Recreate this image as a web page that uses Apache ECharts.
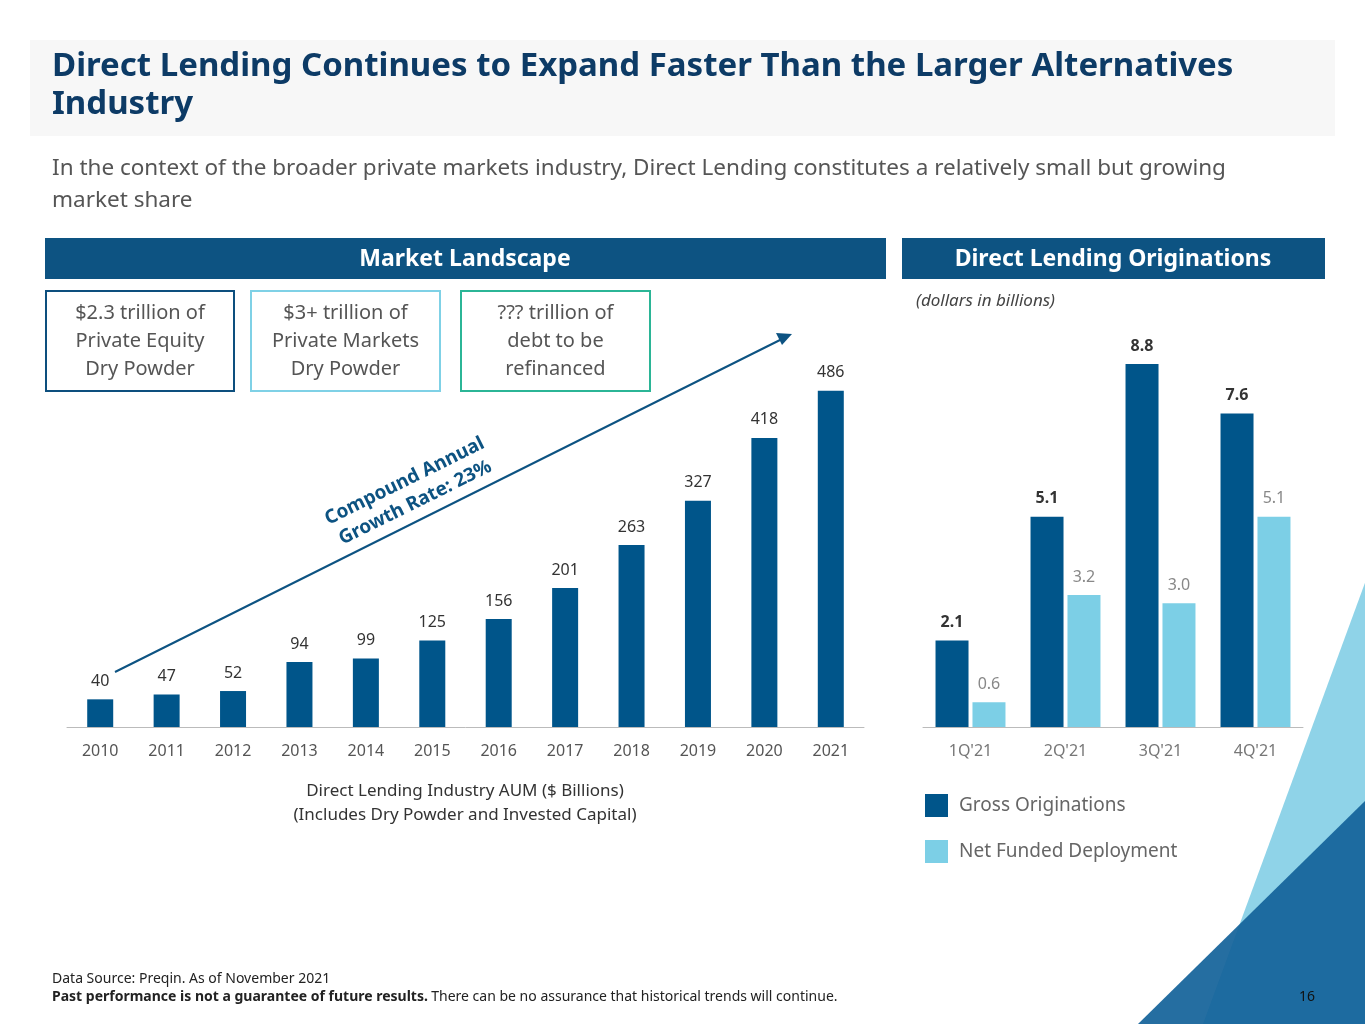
<!DOCTYPE html>
<html><head><meta charset="utf-8">
<script src="https://cdn.jsdelivr.net/npm/echarts@6/dist/echarts.min.js"></script>
<style>html,body{margin:0;padding:0;background:#fff}#c{width:1365px;height:1024px}</style>
</head><body><div id="c"></div>
<script>
const years = ['2010','2011','2012','2013','2014','2015','2016','2017','2018','2019','2020','2021'];
const aum = [40,47,52,94,99,125,156,201,263,327,418,486];
const quarters = ["1Q'21","2Q'21","3Q'21","4Q'21"];
const gross = [2.1,5.1,8.8,7.6];
const net = [0.6,3.2,3.0,5.1];

const F = 'Noto Sans, Open Sans, sans-serif';
const DARK = '#00558a', LIGHT = '#7ccfe6', NAVY='#0d5382';
const chart = echarts.init(document.getElementById('c'));
function box(x,y,w,h,color,text){
  return [{type:'rect',shape:{x:x,y:y,width:w,height:h},style:{fill:'#fff',stroke:color,lineWidth:2}},
  {type:'text',x:x+w/2,y:y+h/2,style:{text:text,fill:'#555',font:'20px '+F,align:'center',verticalAlign:'middle',lineHeight:28}}];
}
const fmt1 = p => p.value.toFixed(1);
chart.setOption({
  animation:false,
  textStyle:{fontFamily:F},
  grid:[{left:67,width:797,top:312,height:415},{left:923,width:380,top:314.5,height:412.5}],
  xAxis:[
    {gridIndex:0,type:'category',data:years,axisTick:{show:false},axisLine:{lineStyle:{color:'#bbb'}},axisLabel:{color:'#555',fontSize:16,margin:16}},
    {gridIndex:1,type:'category',data:quarters,axisTick:{show:false},axisLine:{lineStyle:{color:'#bbb'}},axisLabel:{color:'#777',fontSize:16,margin:16}}
  ],
  yAxis:[
    {gridIndex:0,min:0,max:600,show:false},
    {gridIndex:1,min:0,max:10,show:false}
  ],
  legend:{orient:'vertical',left:920,top:789,itemWidth:23,itemHeight:23,itemGap:23,icon:'rect',
    textStyle:{color:'#666',fontSize:19,padding:[0,0,0,6]},data:['Gross Originations','Net Funded Deployment']},
  series:[
    {type:'bar',xAxisIndex:0,yAxisIndex:0,data:aum,barWidth:26,itemStyle:{color:DARK},
      label:{show:true,position:'top',distance:10,color:'#333',fontSize:16}},
    {name:'Gross Originations',type:'bar',xAxisIndex:1,yAxisIndex:1,data:gross,barWidth:33,barGap:'12%',itemStyle:{color:DARK},
      label:{show:true,position:'top',distance:10,color:'#333',fontSize:16,fontWeight:'bold',formatter:fmt1}},
    {name:'Net Funded Deployment',type:'bar',xAxisIndex:1,yAxisIndex:1,data:net,barWidth:33,itemStyle:{color:LIGHT},
      label:{show:true,position:'top',distance:10,color:'#888',fontSize:16,formatter:fmt1}}
  ],
  graphic:[
    {type:'polygon',z:-10,shape:{points:[[1366,580],[1366,1024],[1203,1024]]},style:{fill:'#8fd3e8'}},
    {type:'polygon',z:-9,shape:{points:[[1366,800],[1366,1024],[1138,1024]]},style:{fill:'#14639a',opacity:0.93}},
    {type:'rect',shape:{x:30,y:40,width:1305,height:96},style:{fill:'#f7f7f7'}},
    {type:'text',x:52,y:48,style:{text:'Direct Lending Continues to Expand Faster Than the Larger Alternatives\nIndustry',fill:'#0d3b66',font:'bold 33px '+F,lineHeight:38}},
    {type:'text',x:52,y:153,style:{text:'In the context of the broader private markets industry, Direct Lending constitutes a relatively small but growing\nmarket share',fill:'#555',font:'22.5px '+F,lineHeight:32}},
    {type:'rect',shape:{x:45,y:238,width:841,height:41},style:{fill:NAVY}},
    {type:'text',x:465,y:259,style:{text:'Market Landscape',fill:'#fff',font:'bold 23px '+F,align:'center',verticalAlign:'middle'}},
    {type:'rect',shape:{x:902,y:238,width:423,height:41},style:{fill:NAVY}},
    {type:'text',x:1113,y:259,style:{text:'Direct Lending Originations',fill:'#fff',font:'bold 23px '+F,align:'center',verticalAlign:'middle'}},
    {type:'text',x:916,y:293,style:{text:'(dollars in billions)',fill:'#444',font:'italic 17px '+F}},
    ...box(46,291,188,100,'#0d4f7e','$2.3 trillion of\nPrivate Equity\nDry Powder'),
    ...box(251,291,189,100,'#7fd1e6','$3+ trillion of\nPrivate Markets\nDry Powder'),
    ...box(461,291,189,100,'#2bb596','??? trillion of\ndebt to be\nrefinanced'),
    {type:'line',shape:{x1:115,y1:672,x2:782,y2:339},style:{stroke:NAVY,lineWidth:2}},
    {type:'polygon',shape:{points:[[792,334],[776,333],[782,345]]},style:{fill:NAVY}},
    {type:'text',x:410,y:492,rotation:0.46,style:{text:'Compound Annual\nGrowth Rate: 23%',fill:NAVY,font:'bold 19px '+F,align:'center',verticalAlign:'middle',lineHeight:24}},
    {type:'text',x:465,y:803,style:{text:'Direct Lending Industry AUM ($ Billions)\n(Includes Dry Powder and Invested Capital)',fill:'#333',font:'17px '+F,align:'center',verticalAlign:'middle',lineHeight:24}},
    {type:'text',x:52,y:972,style:{text:'Data Source: Preqin. As of November 2021',fill:'#222',font:'14px '+F}},
    {type:'text',x:52,y:990,style:{rich:{b:{fontWeight:'bold',fontSize:14,fill:'#222',fontFamily:F},n:{fontSize:14,fill:'#222',fontFamily:F}},text:'{b|Past performance is not a guarantee of future results.} {n|There can be no assurance that historical trends will continue.}'}},
    {type:'text',x:1315,y:990,style:{text:'16',fill:'#111',font:'14px '+F,align:'right'}}
  ]
});
</script></body></html>
